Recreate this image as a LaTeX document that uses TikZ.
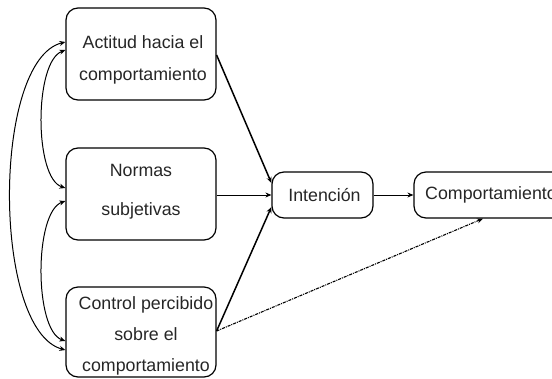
\documentclass[tikz,border=0pt]{standalone}
\usepackage{fontspec}
\setmainfont{Liberation Sans}
\usetikzlibrary{arrows.meta}
\begin{document}
\begin{tikzpicture}[x=1pt,y=-1pt,
  box/.style={draw, rounded corners=12pt, line width=1.2pt, inner sep=0pt},
  lbl/.style={align=center, inner sep=0pt, text=black!85},
  tip/.style={-{Stealth[length=6pt,width=5pt]}},
  arr/.style={tip, line width=0.8pt},
  bold arr/.style={tip, line width=1.5pt},
  curve/.style={{Stealth[length=6pt,width=5pt]}-{Stealth[length=6pt,width=5pt]}, line width=1pt},
  dotarr/.style={tip, line width=1.1pt, dash pattern=on 3pt off 1pt on 1pt off 1pt}]
\useasboundingbox (0,0) rectangle (552,378);
\clip (0,0) rectangle (552,378);
% boxes
\node[box, minimum width=150pt, minimum height=92pt] (b1) at (141,54) {};
\node[box, minimum width=150pt, minimum height=92pt] (b2) at (141,194) {};
\node[box, minimum width=150pt, minimum height=90pt] (b3) at (141,332) {};
\node[box, minimum width=101pt, minimum height=46pt] (int) at (322.5,195) {};
\node[box, minimum width=150pt, minimum height=46pt] (comp) at (489,195) {};
% labels
\node[lbl, font=\fontsize{17.8}{32}\selectfont] (t1) at (143,60) {Actitud hacia el\\comportamiento};
\node[lbl, font=\fontsize{17.8}{39}\selectfont] (t2) at (141,192) {Normas\\subjetivas};
\node[lbl, font=\fontsize{17.8}{31}\selectfont] (t3) at (146,336) {Control percibido\\sobre el\\comportamiento};
\node[lbl, font=\fontsize{17.8}{20}\selectfont] (t4) at ([xshift=2pt]int.center) {Intención};
\node[lbl, font=\fontsize{17.8}{20}\selectfont] (t5) at ([xshift=2pt]comp.center) {Comportamiento};
% connectors
\draw[bold arr] ([yshift=-1pt]b1.east) -- ([yshift=12pt]int.west);
\draw[arr] (b2.east |- int.west) -- (int.west);
\draw[bold arr] ([yshift=1pt]b3.east) -- ([yshift=-12pt]int.west);
\draw[arr] (int.east) -- (comp.west);
\draw[dotarr] ([yshift=1pt]b3.east) -- ([xshift=-6pt]comp.south);
% left curves
\draw[curve] ([yshift=12pt]b1.west) .. controls (-8,60) and (-8,330) .. ([yshift=-18pt]b3.west);
\draw[curve] ([yshift=4pt]b1.west) .. controls (34,62) and (34,178) .. ([yshift=6pt]b2.west);
\draw[curve] ([yshift=-7pt]b2.west) .. controls (34,212) and (34,330) .. ([yshift=-9pt]b3.west);
\end{tikzpicture}
\end{document}
